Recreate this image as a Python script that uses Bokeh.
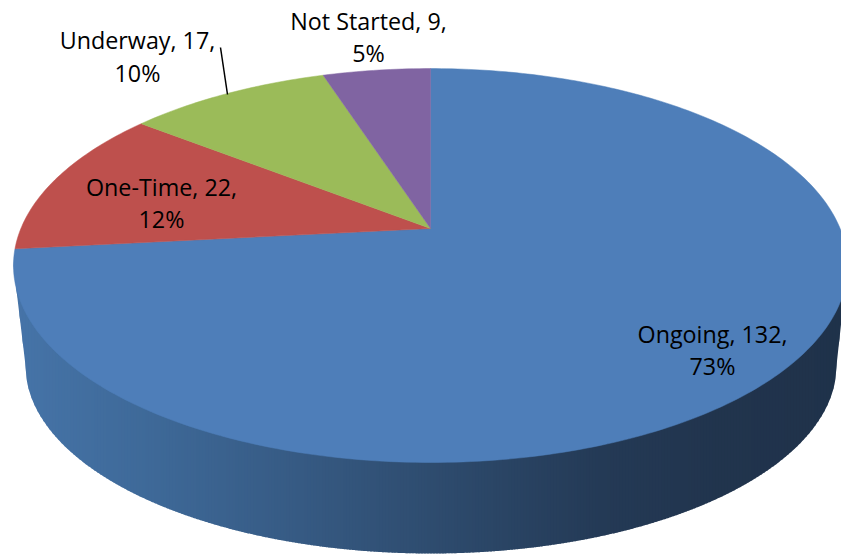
import numpy as np
from bokeh.plotting import figure
from bokeh.models import Range1d
from bokeh.core.properties import value
from bokeh.embed import file_html
from bokeh.resources import INLINE

# ---- data ----
categories = ["Ongoing", "One-Time", "Underway", "Not Started"]
counts = [132, 22, 17, 9]
percents = [73, 12, 10, 5]
colors = ["#4E7EB9", "#BE504D", "#9BBB59", "#8064A2"]

# ---- label placement (page pixels: centre x, first line y, second line y) ----
label_x = [712, 161, 137, 368]
label_y1 = [333, 186, 39, 20]
label_y2 = [365, 218, 72, 52]
leader_x = [220, 227]
leader_y = [47, 94]

# ---- projection of the tilted disc ----
APEX_X, APEX_Y = 430, 228
A, B, K = 409.6, 190.0, 0.188
TOP_CX, TOP_CY, TOP_RX, TOP_RY = 430, 265, 417, 197
BOT_CX, BOT_CY, BOT_RX, BOT_RY = 430.5, 365, 405.5, 188

wall_stops_x = [13, 150, 300, 450, 600, 720, 847]
wall_stops_c = [(70, 116, 168), (62, 105, 152), (54, 90, 131), (45, 74, 108), (36, 58, 86), (33, 52, 77), (31, 50, 74)]


def project(theta):
    d = 1 + K * np.cos(theta)
    return APEX_X + A * np.sin(theta) / d, APEX_Y - B * np.cos(theta) / d


p = figure(width=841, height=554, output_backend="svg", toolbar_location=None,
           x_range=Range1d(0, 841), y_range=Range1d(554, 0),
           min_border=0, outline_line_color=None)
p.axis.visible = False
p.grid.visible = False
p.xaxis.visible = False
p.yaxis.visible = False

# side wall: narrow vertical bands, shaded from left to right


def wall_bottom(x):
    x = np.asarray(x, dtype=float)
    left = BOT_CX - BOT_RX
    right = BOT_CX + BOT_RX
    t = np.clip((x - BOT_CX) / BOT_RX, -1, 1)
    y = BOT_CY + BOT_RY * np.sqrt(1 - t ** 2)
    tl, tr = TOP_CX - TOP_RX, TOP_CX + TOP_RX
    y = np.where(x < left, TOP_CY + (x - tl) / (left - tl) * (BOT_CY - TOP_CY), y)
    y = np.where(x > right, TOP_CY + (tr - x) / (tr - right) * (BOT_CY - TOP_CY), y)
    return y


def wall_top(x):
    t = np.clip((np.asarray(x, dtype=float) - TOP_CX) / TOP_RX, -1, 1)
    return TOP_CY + TOP_RY * np.sqrt(1 - t ** 2) - 6


edges = np.arange(TOP_CX - TOP_RX, TOP_CX + TOP_RX + 1, 3.0)
xs, ys, cs = [], [], []
for x0, x1 in zip(edges[:-1], edges[1:]):
    seg = np.linspace(x0, min(x1 + 1, TOP_CX + TOP_RX), 5)
    xs.append(list(seg) + list(seg[::-1]))
    ys.append(list(wall_top(seg)) + list(wall_bottom(seg[::-1])))
    mid = (x0 + x1) / 2
    rgb = [int(round(np.interp(mid, wall_stops_x, [c[i] for c in wall_stops_c]))) for i in range(3)]
    cs.append("#%02x%02x%02x" % tuple(rgb))
p.patches(xs, ys, fill_color=cs, line_color=None)

# top face, slices clockwise from 12 o'clock
fracs = np.array(counts, dtype=float) / sum(counts)
bounds = np.concatenate([[0], np.cumsum(fracs)]) * 2 * np.pi
for i in range(len(counts)):
    th = np.linspace(bounds[i], bounds[i + 1], max(int(fracs[i] * 400), 12))
    x, y = project(th)
    p.patch(list(x) + [APEX_X], list(y) + [APEX_Y], fill_color=colors[i],
            line_color=colors[i], line_width=0.5)

# leader line
p.line(leader_x, leader_y, line_color="#000000", line_width=1.5)

# labels
font = value("Open Sans")
for i in range(len(categories)):
    for txt, yy in ((f"{categories[i]}, {counts[i]},", label_y1[i]), (f"{percents[i]}%", label_y2[i])):
        p.text([label_x[i]], [yy], text=[txt], text_font=font, text_font_size="23.3px",
               text_align="center", text_baseline="middle", text_color="#000000")

open("out.html", "w").write(file_html(p, INLINE))
